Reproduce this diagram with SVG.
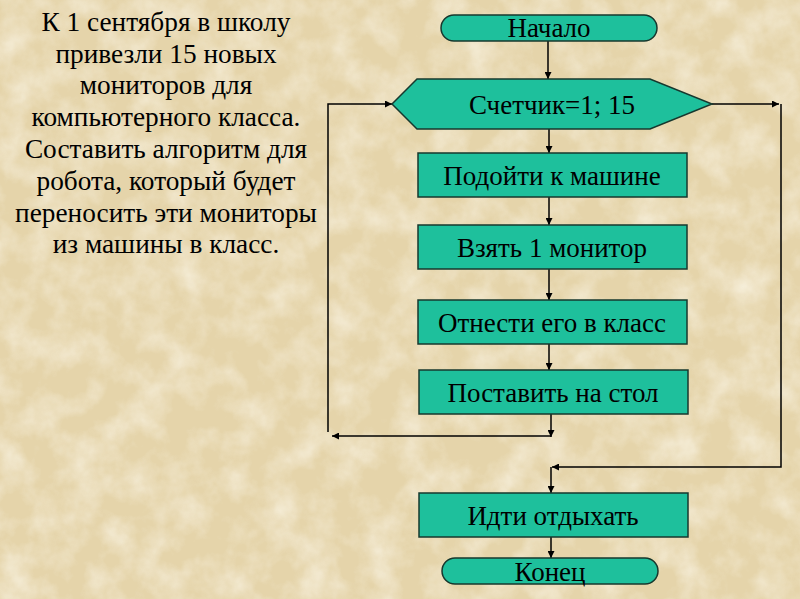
<svg xmlns="http://www.w3.org/2000/svg" width="800" height="599" viewBox="0 0 800 599">
<defs>
<style>
.n{fill:#1ec09c;stroke:#17382e;stroke-width:1.5}
.t{font-family:"Liberation Serif","Times New Roman",serif;font-size:27px;fill:#000;text-anchor:middle}
.p{font-size:27.3px}
.c{fill:none;stroke:#000;stroke-width:1.5}
</style>
<marker id="a" viewBox="0 0 10 10" refX="10" refY="5" markerWidth="7" markerHeight="7" orient="auto" markerUnits="userSpaceOnUse"><path d="M0,0 L10,5 L0,10 z" fill="#000"/></marker>
<filter id="tex" x="0" y="0" width="100%" height="100%">
<feTurbulence type="fractalNoise" baseFrequency="0.03" numOctaves="4" seed="3" result="n"/>
<feColorMatrix in="n" type="matrix" values="0 0 0 0 0.97  0 0 0 0 0.93  0 0 0 0 0.82  0 0 0 1.6 -0.6"/>
</filter>
</defs>
<rect width="800" height="599" fill="#e5d4aa"/>
<rect width="800" height="599" filter="url(#tex)" opacity="0.75"/>
<g id="task">
<text class="t p" x="166" y="31">К 1 сентября в школу</text>
<text class="t p" x="166" y="63">привезли 15 новых</text>
<text class="t p" x="166" y="94">мониторов для</text>
<text class="t p" x="166" y="126">компьютерного класса.</text>
<text class="t p" x="166" y="158">Составить алгоритм для</text>
<text class="t p" x="166" y="190">робота, который будет</text>
<text class="t p" x="166" y="222">переносить эти мониторы</text>
<text class="t p" x="166" y="253">из машины в класс.</text>
</g>
<g id="connectors">
<line class="c" x1="548" y1="41" x2="548" y2="79" marker-end="url(#a)"/>
<line class="c" x1="549" y1="129" x2="549" y2="153" marker-end="url(#a)"/>
<line class="c" x1="549" y1="197" x2="549" y2="225" marker-end="url(#a)"/>
<line class="c" x1="549" y1="269" x2="549" y2="300" marker-end="url(#a)"/>
<line class="c" x1="549" y1="344" x2="549" y2="370" marker-end="url(#a)"/>
<line class="c" x1="551" y1="414" x2="551" y2="437" marker-end="url(#a)"/>
<line class="c" x1="551" y1="436" x2="332" y2="436" marker-end="url(#a)"/>
<polyline class="c" points="328,432 328,104 392,104" marker-end="url(#a)"/>
<line class="c" x1="712" y1="104" x2="779" y2="104" marker-end="url(#a)"/>
<polyline class="c" points="781,104 781,467 552,467" marker-end="url(#a)"/>
<line class="c" x1="551" y1="467" x2="551" y2="493" marker-end="url(#a)"/>
<line class="c" x1="551" y1="537" x2="551" y2="558" marker-end="url(#a)"/>
</g>
<g id="start">
<rect class="n" x="441" y="15" width="216" height="26" rx="13"/>
<text class="t" x="549" y="37">Начало</text>
</g>
<g id="loop">
<polygon class="n" points="392,104 417,79 650,79 712,104 650,129 417,129"/>
<text class="t" x="552" y="114">Счетчик=1; 15</text>
</g>
<g id="step1">
<rect class="n" x="418" y="153" width="269" height="44"/>
<text class="t" x="552" y="185">Подойти к машине</text>
</g>
<g id="step2">
<rect class="n" x="418" y="225" width="269" height="44"/>
<text class="t" x="552" y="257">Взять 1 монитор</text>
</g>
<g id="step3">
<rect class="n" x="418" y="300" width="269" height="44"/>
<text class="t" x="552" y="332">Отнести его в класс</text>
</g>
<g id="step4">
<rect class="n" x="419" y="370" width="269" height="44"/>
<text class="t" x="553" y="402">Поставить на стол</text>
</g>
<g id="rest">
<rect class="n" x="419" y="493" width="269" height="44"/>
<text class="t" x="553" y="525">Идти отдыхать</text>
</g>
<g id="end">
<rect class="n" x="442" y="558" width="216" height="26" rx="13"/>
<text class="t" x="550" y="581">Конец</text>
</g>
</svg>
